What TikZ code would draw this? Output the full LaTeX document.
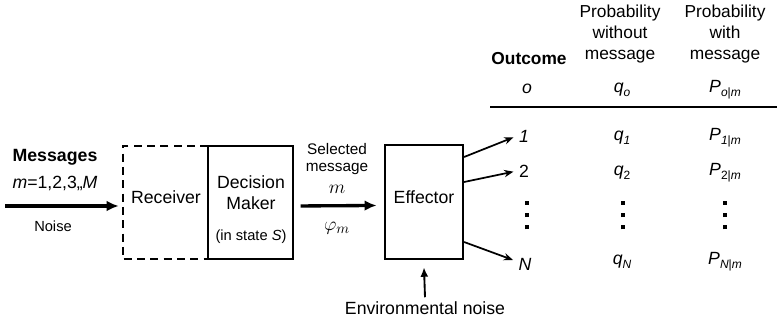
\documentclass[tikz,border=0pt]{standalone}
\usepackage{fontspec}
\setmainfont{Liberation Sans}
\usetikzlibrary{arrows.meta}
% subscript in the running sans font
\newcommand{\sbs}[1]{\raisebox{-0.45ex}{\fontsize{9}{10}\selectfont #1}}
% three stacked square dots
\newcommand{\tridots}{\vbox{\offinterlineskip
  \hbox{\rule{2.6pt}{3.2pt}}\vskip 6pt
  \hbox{\rule{2.6pt}{3.2pt}}\vskip 6pt
  \hbox{\rule{2.6pt}{3.2pt}}}}
\begin{document}
\begin{tikzpicture}[x=0.75pt,y=-0.75pt,
  lbl/.style={inner sep=0pt, align=center, font=\fontsize{13.25}{15.5}\selectfont},
  sml/.style={inner sep=0pt, align=center, font=\fontsize{11.5}{13}\selectfont},
  hdr/.style={inner sep=0pt, align=center, font=\fontsize{13}{15.75}\selectfont},
  blk/.style={draw, line width=1.6pt, inner sep=0pt},
  bigarrow/.style={line width=2.5pt, -{Latex[length=9pt,width=8pt]}},
  thinarrow/.style={line width=1.3pt, -{Stealth[length=7pt,width=5.5pt]}},
]
\useasboundingbox (0,0) rectangle (777,320);

% ---- input side ----
\node[lbl, font=\fontsize{13.3}{15}\bfseries] (msg) at (55,157) {Messages};
\node[lbl] (mset) at (55,183) {\textit{m}=1,2,3,,\textit{M}};
\node[sml, font=\fontsize{11}{13}\selectfont] (noise) at (53,226) {Noise};
\coordinate (msgstart) at (5,206);

% receiver (dashed, open on its right) and decision maker
\node[inner sep=0pt, minimum width=63.75pt, minimum height=84.75pt] (rcv) at (165.5,202.5) {};
\draw[line width=1.6pt, dash pattern=on 6pt off 4pt]
  (rcv.north east) -- (rcv.north west) -- (rcv.south west) -- (rcv.south east);
\node[lbl] (rcvtxt) at (166,197) {Receiver};

\node[blk, minimum width=63.75pt, minimum height=84.75pt] (dm) at (250.5,202.5) {};
\node[lbl] (dmtxt) at (251,193) {Decision\\Maker};
\node[sml, font=\fontsize{11}{13}\selectfont] (state) at (251,237) {(in state \textit{S})};

\draw[bigarrow] (msgstart) -- ([xshift=-3pt]rcv.west |- msgstart);

% ---- selected message ----
\node[sml] (sel) at (337,159) {Selected\\message};
\node[lbl, font=\fontsize{14}{16}\selectfont] (selm) at (337,189) {$m$};
\node[lbl, font=\fontsize{15}{17}\selectfont] (phi) at (337,228) {$\varphi_m$};

\node[blk, minimum width=58.5pt, minimum height=85.5pt] (eff) at (424,202) {};
\node[lbl] (efftxt) at (424,197) {Effector};

\draw[bigarrow] ([xshift=5pt,yshift=-2.6pt]dm.east) -- ([xshift=-5.5pt,yshift=-2.6pt]eff.west);

% ---- environmental noise ----
\node[lbl] (env) at (425,308) {Environmental noise};
\draw[line width=1.4pt, -{Latex[length=7pt,width=6pt]}]
  ([yshift=3pt]env.north) -- ([yshift=-5.5pt]eff.south);

% ---- outcome table ----
\node[hdr, font=\fontsize{13}{15}\bfseries] (hout) at (529,59) {Outcome};
\node[hdr] (hq) at (620,34) {Probability\\without\\message};
\node[hdr] (hp) at (725,34) {Probability\\with\\message};

\node[lbl] (ro) at (527,89) {\textit{o}};
\node[lbl] (rq) at (622,90) {\textit{q}\sbs{\textit{o}}};
\node[lbl] (rp) at (725,90) {\textit{P}\sbs{\textit{o}|\textit{m}}};
\coordinate (rulel) at (490,107);
\coordinate (ruler) at (777,107);
\draw[line width=1.2pt] (rulel) -- (ruler);

\node[lbl] (o1) at (524,136) {\textit{1}};
\node[lbl] (q1) at (622,138) {\textit{q}\sbs{\textit{1}}};
\node[lbl] (p1) at (725,138) {\textit{P}\sbs{\textit{1}|\textit{m}}};

\node[lbl] (o2) at (524,171) {2};
\node[lbl] (q2) at (622,173) {\textit{q}\sbs{2}};
\node[lbl] (p2) at (725,173) {\textit{P}\sbs{2|\textit{m}}};

\node[inner sep=0pt] (d1) at (527,215) {\tridots};
\node[inner sep=0pt] (d2) at (623,215) {\tridots};
\node[inner sep=0pt] (d3) at (725,215) {\tridots};

\node[lbl] (oN) at (525,264) {\textit{N}};
\node[lbl] (qN) at (622,262) {\textit{q}\sbs{\textit{N}}};
\node[lbl] (pN) at (725,262) {\textit{P}\sbs{\textit{N}|\textit{m}}};

\draw[thinarrow] ([yshift=33.75pt]eff.east) -- ([xshift=-4pt,yshift=-1pt]o1.west);
\draw[thinarrow] ([yshift=15pt]eff.east) -- ([xshift=-4pt,yshift=-0.5pt]o2.west);
\draw[thinarrow] ([yshift=-30pt]eff.east) -- ([xshift=-4pt,yshift=3pt]oN.west);
\end{tikzpicture}
\end{document}
